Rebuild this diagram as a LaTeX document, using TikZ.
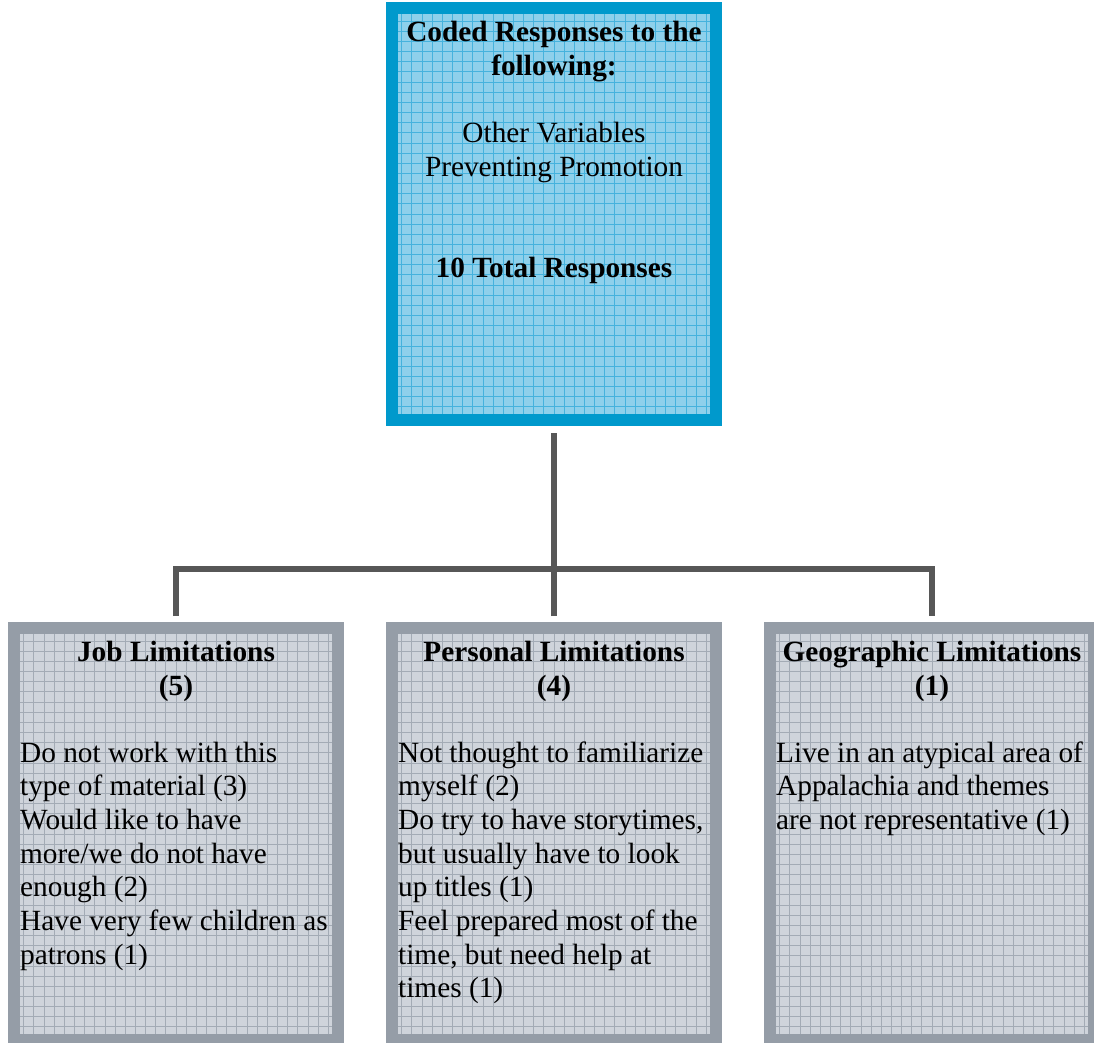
\documentclass[tikz,border=0pt]{standalone}
\usepackage{fontspec}
\setmainfont{Liberation Serif}
\definecolor{bluebd}{HTML}{0099CC}
\definecolor{bluefill}{HTML}{8ED0EB}
\definecolor{bluegrid}{HTML}{45B2DD}
\definecolor{graybd}{HTML}{959DA7}
\definecolor{grayfill}{HTML}{CFD4DB}
\definecolor{graygrid}{HTML}{A3ABB5}
\definecolor{connc}{HTML}{575757}
\tikzset{
  box/.style={rectangle, line width=12pt, inner sep=0pt, minimum width=324pt, minimum height=412pt},
  topbox/.style={box, draw=bluebd, fill=bluefill,
    path picture={\draw[bluegrid, line width=0.9pt, step=10.15pt] (path picture bounding box.south west) grid (path picture bounding box.north east);}},
  lowbox/.style={box, draw=graybd, fill=grayfill,
    path picture={\draw[graygrid, line width=0.9pt, step=10.15pt] (path picture bounding box.south west) grid (path picture bounding box.north east);}},
  txt/.style={inner sep=0pt, font=\fontsize{29.3}{33.7}\selectfont},
  titletxt/.style={txt, align=center, font=\fontsize{29.3}{33.7}\selectfont\bfseries},
  plaintxt/.style={txt, align=center},
  bodytxt/.style={txt, align=left, anchor=base west},
  conn/.style={draw=connc, line width=6pt}
}
\begin{document}
\begin{tikzpicture}[x=1pt,y=-1pt]
\useasboundingbox (0,0) rectangle (1094,1042);
\node[topbox] (top) at (554,214) {};
\node[lowbox] (job) at (176,834) {};
\node[lowbox] (pers) at (554,834) {};
\node[lowbox] (geo) at (932,834) {};
\coordinate (junc) at (554,569);
% connectors
\draw[conn, shorten <=7pt] (top.south) -- (top.south |- junc);
\draw[conn, shorten <=6pt, shorten >=6pt] (job.north) -- (job.north |- junc) -| (geo.north);
\draw[conn, shorten <=6pt] (pers.north) -- (pers.north |- junc);
% top texts (base anchor = last line baseline)
\node[titletxt, anchor=base] (toptitle) at (554,75.5) {Coded Responses to the\\following:};
\node[plaintxt, anchor=base] (topvar) at (554,176) {Other Variables\\Preventing Promotion};
\node[titletxt, anchor=base] (toptotal) at (554,277) {10 Total Responses};
% bottom titles
\node[titletxt, anchor=base] (jobtitle) at (176,695.5) {Job Limitations\\(5)};
\node[titletxt, anchor=base] (perstitle) at (554,695.5) {Personal Limitations\\(4)};
\node[titletxt, anchor=base] (geotitle) at (932,695.5) {Geographic Limitations\\(1)};
% bodies
\node[bodytxt] (jobbody) at (20,964.2) {Do not work with this\\type of material (3)\\Would like to have\\more/we do not have\\enough (2)\\Have very few children as\\patrons (1)};
\node[bodytxt] (persbody) at (398,997.9) {Not thought to familiarize\\myself (2)\\Do try to have storytimes,\\but usually have to look\\up titles (1)\\Feel prepared most of the\\time, but need help at\\times (1)};
\node[bodytxt] (geobody) at (776,829.4) {Live in an atypical area of\\Appalachia and themes\\are not representative (1)};
\end{tikzpicture}
\end{document}
